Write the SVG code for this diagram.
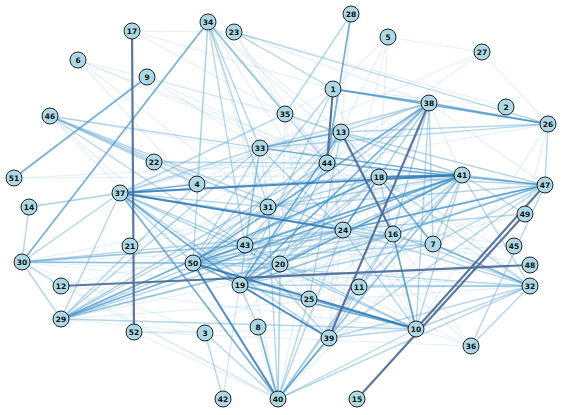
<svg xmlns="http://www.w3.org/2000/svg" width="564" height="415" viewBox="0 0 564 415">
<style>
.a{stroke:#9ecae1;stroke-opacity:0.28;stroke-width:1.2}
.b{stroke:#6baed6;stroke-opacity:0.5;stroke-width:1.4}
.c{stroke:#4292c6;stroke-opacity:0.72;stroke-width:1.7}
.d{stroke:#2f78b8;stroke-opacity:0.85;stroke-width:2}
.e{stroke:#4d6b98;stroke-opacity:0.92;stroke-width:2.2}
.n circle{fill:#add8e6;stroke:#222;stroke-width:1}
.n text{font-family:"DejaVu Sans",sans-serif;font-weight:bold;font-size:7.5px;fill:#111;text-anchor:middle;dominant-baseline:central}
</style>
<rect width="564" height="415" fill="#fff"/>
<g id="edges" fill="none">
<line class="a" x1="78" y1="60" x2="285" y2="114"/>
<line class="a" x1="78" y1="60" x2="327" y2="163"/>
<line class="a" x1="78" y1="60" x2="268" y2="207"/>
<line class="a" x1="78" y1="60" x2="379" y2="177"/>
<line class="a" x1="78" y1="60" x2="245" y2="245"/>
<line class="a" x1="147" y1="77" x2="260" y2="148"/>
<line class="a" x1="147" y1="77" x2="341" y2="132"/>
<line class="a" x1="147" y1="77" x2="327" y2="163"/>
<line class="a" x1="132" y1="31" x2="285" y2="114"/>
<line class="a" x1="132" y1="31" x2="333" y2="89"/>
<line class="a" x1="132" y1="31" x2="234" y2="32"/>
<line class="a" x1="154" y1="162" x2="462" y2="175"/>
<line class="a" x1="154" y1="162" x2="268" y2="207"/>
<line class="a" x1="29" y1="207" x2="327" y2="163"/>
<line class="a" x1="14" y1="178" x2="327" y2="163"/>
<line class="a" x1="14" y1="178" x2="462" y2="175"/>
<line class="a" x1="197" y1="184" x2="341" y2="132"/>
<line class="a" x1="197" y1="184" x2="433" y2="244"/>
<line class="a" x1="197" y1="184" x2="260" y2="148"/>
<line class="a" x1="130" y1="246" x2="341" y2="132"/>
<line class="a" x1="130" y1="246" x2="462" y2="175"/>
<line class="a" x1="61" y1="286" x2="245" y2="245"/>
<line class="a" x1="61" y1="286" x2="416" y2="329"/>
<line class="a" x1="61" y1="319" x2="205" y2="333"/>
<line class="a" x1="61" y1="319" x2="327" y2="163"/>
<line class="a" x1="61" y1="319" x2="530" y2="286"/>
<line class="a" x1="61" y1="319" x2="433" y2="244"/>
<line class="a" x1="134" y1="332" x2="278" y2="399"/>
<line class="a" x1="134" y1="332" x2="205" y2="333"/>
<line class="a" x1="134" y1="332" x2="416" y2="329"/>
<line class="a" x1="134" y1="332" x2="471" y2="346"/>
<line class="a" x1="205" y1="333" x2="22" y2="262"/>
<line class="a" x1="205" y1="333" x2="462" y2="175"/>
<line class="a" x1="223" y1="399" x2="245" y2="245"/>
<line class="a" x1="223" y1="399" x2="240" y2="285"/>
<line class="a" x1="471" y1="346" x2="245" y2="245"/>
<line class="a" x1="471" y1="346" x2="343" y2="230"/>
<line class="a" x1="471" y1="346" x2="393" y2="234"/>
<line class="a" x1="514" y1="246" x2="193" y2="263"/>
<line class="a" x1="514" y1="246" x2="268" y2="207"/>
<line class="a" x1="530" y1="265" x2="343" y2="230"/>
<line class="a" x1="530" y1="265" x2="240" y2="285"/>
<line class="a" x1="530" y1="265" x2="379" y2="177"/>
<line class="a" x1="525" y1="214" x2="240" y2="285"/>
<line class="a" x1="525" y1="214" x2="548" y2="124"/>
<line class="a" x1="388" y1="37" x2="343" y2="230"/>
<line class="a" x1="388" y1="37" x2="482" y2="52"/>
<line class="a" x1="388" y1="37" x2="379" y2="177"/>
<line class="a" x1="388" y1="37" x2="341" y2="132"/>
<line class="a" x1="482" y1="52" x2="327" y2="163"/>
<line class="a" x1="482" y1="52" x2="260" y2="148"/>
<line class="a" x1="482" y1="52" x2="548" y2="124"/>
<line class="a" x1="506" y1="107" x2="234" y2="32"/>
<line class="a" x1="506" y1="107" x2="333" y2="89"/>
<line class="a" x1="234" y1="32" x2="429" y2="103"/>
<line class="a" x1="234" y1="32" x2="327" y2="163"/>
<line class="a" x1="234" y1="32" x2="285" y2="114"/>
<line class="a" x1="351" y1="14" x2="341" y2="132"/>
<line class="a" x1="333" y1="89" x2="285" y2="114"/>
<line class="a" x1="333" y1="89" x2="416" y2="329"/>
<line class="a" x1="327" y1="163" x2="245" y2="245"/>
<line class="a" x1="327" y1="163" x2="343" y2="230"/>
<line class="a" x1="327" y1="163" x2="278" y2="399"/>
<line class="a" x1="208" y1="22" x2="379" y2="177"/>
<line class="a" x1="208" y1="22" x2="280" y2="264"/>
<line class="a" x1="208" y1="22" x2="341" y2="132"/>
<line class="a" x1="208" y1="22" x2="343" y2="230"/>
<line class="a" x1="208" y1="22" x2="197" y2="184"/>
<line class="a" x1="208" y1="22" x2="393" y2="234"/>
<line class="a" x1="50" y1="116" x2="327" y2="163"/>
<line class="a" x1="50" y1="116" x2="193" y2="263"/>
<line class="a" x1="50" y1="116" x2="240" y2="285"/>
<line class="a" x1="548" y1="124" x2="327" y2="163"/>
<line class="a" x1="548" y1="124" x2="416" y2="329"/>
<line class="a" x1="359" y1="287" x2="193" y2="263"/>
<line class="a" x1="359" y1="287" x2="327" y2="163"/>
<line class="a" x1="359" y1="287" x2="429" y2="103"/>
<line class="a" x1="309" y1="299" x2="462" y2="175"/>
<line class="a" x1="309" y1="299" x2="545" y2="185"/>
<line class="a" x1="309" y1="299" x2="343" y2="230"/>
<line class="a" x1="260" y1="148" x2="268" y2="207"/>
<line class="a" x1="260" y1="148" x2="280" y2="264"/>
<line class="a" x1="285" y1="114" x2="278" y2="399"/>
<line class="a" x1="285" y1="114" x2="309" y2="299"/>
<line class="a" x1="429" y1="103" x2="327" y2="163"/>
<line class="a" x1="429" y1="103" x2="462" y2="175"/>
<line class="a" x1="429" y1="103" x2="545" y2="185"/>
<line class="a" x1="429" y1="103" x2="120" y2="193"/>
<line class="a" x1="429" y1="103" x2="343" y2="230"/>
<line class="a" x1="429" y1="103" x2="393" y2="234"/>
<line class="a" x1="22" y1="262" x2="462" y2="175"/>
<line class="a" x1="22" y1="262" x2="530" y2="286"/>
<line class="a" x1="22" y1="262" x2="240" y2="285"/>
<line class="a" x1="22" y1="262" x2="433" y2="244"/>
<line class="a" x1="278" y1="399" x2="433" y2="244"/>
<line class="a" x1="278" y1="399" x2="22" y2="262"/>
<line class="a" x1="278" y1="399" x2="240" y2="285"/>
<line class="a" x1="278" y1="399" x2="245" y2="245"/>
<line class="a" x1="329" y1="338" x2="343" y2="230"/>
<line class="a" x1="329" y1="338" x2="379" y2="177"/>
<line class="a" x1="329" y1="338" x2="260" y2="148"/>
<line class="a" x1="329" y1="338" x2="341" y2="132"/>
<line class="a" x1="329" y1="338" x2="280" y2="264"/>
<line class="a" x1="416" y1="329" x2="327" y2="163"/>
<line class="a" x1="416" y1="329" x2="471" y2="346"/>
<line class="a" x1="530" y1="286" x2="341" y2="132"/>
<line class="a" x1="530" y1="286" x2="327" y2="163"/>
<line class="a" x1="280" y1="264" x2="327" y2="163"/>
<line class="a" x1="280" y1="264" x2="545" y2="185"/>
<line class="a" x1="245" y1="245" x2="545" y2="185"/>
<line class="a" x1="240" y1="285" x2="268" y2="207"/>
<line class="a" x1="61" y1="286" x2="278" y2="399"/>
<line class="a" x1="341" y1="132" x2="462" y2="175"/>
<line class="a" x1="341" y1="132" x2="61" y2="319"/>
<line class="a" x1="341" y1="132" x2="120" y2="193"/>
<line class="a" x1="333" y1="89" x2="388" y2="37"/>
<line class="b" x1="208" y1="22" x2="260" y2="148"/>
<line class="b" x1="208" y1="22" x2="245" y2="245"/>
<line class="b" x1="208" y1="22" x2="268" y2="207"/>
<line class="b" x1="208" y1="22" x2="285" y2="114"/>
<line class="b" x1="208" y1="22" x2="327" y2="163"/>
<line class="b" x1="208" y1="22" x2="193" y2="263"/>
<line class="b" x1="234" y1="32" x2="548" y2="124"/>
<line class="b" x1="234" y1="32" x2="333" y2="89"/>
<line class="b" x1="50" y1="116" x2="154" y2="162"/>
<line class="b" x1="50" y1="116" x2="197" y2="184"/>
<line class="b" x1="50" y1="116" x2="260" y2="148"/>
<line class="b" x1="50" y1="116" x2="245" y2="245"/>
<line class="b" x1="50" y1="116" x2="343" y2="230"/>
<line class="b" x1="50" y1="116" x2="268" y2="207"/>
<line class="b" x1="120" y1="193" x2="260" y2="148"/>
<line class="b" x1="120" y1="193" x2="379" y2="177"/>
<line class="b" x1="120" y1="193" x2="268" y2="207"/>
<line class="b" x1="120" y1="193" x2="245" y2="245"/>
<line class="b" x1="120" y1="193" x2="193" y2="263"/>
<line class="b" x1="120" y1="193" x2="329" y2="338"/>
<line class="b" x1="120" y1="193" x2="416" y2="329"/>
<line class="b" x1="120" y1="193" x2="393" y2="234"/>
<line class="b" x1="120" y1="193" x2="433" y2="244"/>
<line class="b" x1="120" y1="193" x2="61" y2="319"/>
<line class="b" x1="120" y1="193" x2="22" y2="262"/>
<line class="b" x1="120" y1="193" x2="29" y2="207"/>
<line class="b" x1="22" y1="262" x2="193" y2="263"/>
<line class="b" x1="22" y1="262" x2="280" y2="264"/>
<line class="b" x1="22" y1="262" x2="245" y2="245"/>
<line class="b" x1="22" y1="262" x2="343" y2="230"/>
<line class="b" x1="22" y1="262" x2="393" y2="234"/>
<line class="b" x1="22" y1="262" x2="61" y2="319"/>
<line class="b" x1="61" y1="319" x2="197" y2="184"/>
<line class="b" x1="61" y1="319" x2="260" y2="148"/>
<line class="b" x1="61" y1="319" x2="245" y2="245"/>
<line class="b" x1="61" y1="319" x2="268" y2="207"/>
<line class="b" x1="61" y1="319" x2="343" y2="230"/>
<line class="b" x1="61" y1="319" x2="393" y2="234"/>
<line class="b" x1="61" y1="319" x2="280" y2="264"/>
<line class="b" x1="61" y1="319" x2="416" y2="329"/>
<line class="b" x1="278" y1="399" x2="280" y2="264"/>
<line class="b" x1="278" y1="399" x2="309" y2="299"/>
<line class="b" x1="278" y1="399" x2="359" y2="287"/>
<line class="b" x1="278" y1="399" x2="343" y2="230"/>
<line class="b" x1="278" y1="399" x2="393" y2="234"/>
<line class="b" x1="278" y1="399" x2="416" y2="329"/>
<line class="b" x1="278" y1="399" x2="530" y2="286"/>
<line class="b" x1="278" y1="399" x2="462" y2="175"/>
<line class="b" x1="278" y1="399" x2="268" y2="207"/>
<line class="b" x1="278" y1="399" x2="205" y2="333"/>
<line class="b" x1="329" y1="338" x2="416" y2="329"/>
<line class="b" x1="329" y1="338" x2="462" y2="175"/>
<line class="b" x1="329" y1="338" x2="545" y2="185"/>
<line class="b" x1="329" y1="338" x2="393" y2="234"/>
<line class="b" x1="329" y1="338" x2="245" y2="245"/>
<line class="b" x1="329" y1="338" x2="530" y2="286"/>
<line class="b" x1="309" y1="299" x2="193" y2="263"/>
<line class="b" x1="309" y1="299" x2="240" y2="285"/>
<line class="b" x1="309" y1="299" x2="341" y2="132"/>
<line class="b" x1="416" y1="329" x2="343" y2="230"/>
<line class="b" x1="416" y1="329" x2="379" y2="177"/>
<line class="b" x1="416" y1="329" x2="462" y2="175"/>
<line class="b" x1="416" y1="329" x2="429" y2="103"/>
<line class="b" x1="416" y1="329" x2="530" y2="286"/>
<line class="b" x1="416" y1="329" x2="245" y2="245"/>
<line class="b" x1="530" y1="286" x2="393" y2="234"/>
<line class="b" x1="530" y1="286" x2="343" y2="230"/>
<line class="b" x1="530" y1="286" x2="379" y2="177"/>
<line class="b" x1="530" y1="286" x2="193" y2="263"/>
<line class="b" x1="530" y1="286" x2="240" y2="285"/>
<line class="b" x1="530" y1="286" x2="471" y2="346"/>
<line class="b" x1="530" y1="286" x2="462" y2="175"/>
<line class="b" x1="471" y1="346" x2="545" y2="185"/>
<line class="b" x1="525" y1="214" x2="462" y2="175"/>
<line class="b" x1="525" y1="214" x2="343" y2="230"/>
<line class="b" x1="433" y1="244" x2="193" y2="263"/>
<line class="b" x1="433" y1="244" x2="240" y2="285"/>
<line class="b" x1="433" y1="244" x2="429" y2="103"/>
<line class="b" x1="433" y1="244" x2="462" y2="175"/>
<line class="b" x1="433" y1="244" x2="545" y2="185"/>
<line class="b" x1="393" y1="234" x2="193" y2="263"/>
<line class="b" x1="393" y1="234" x2="240" y2="285"/>
<line class="b" x1="393" y1="234" x2="462" y2="175"/>
<line class="b" x1="393" y1="234" x2="429" y2="103"/>
<line class="b" x1="393" y1="234" x2="545" y2="185"/>
<line class="b" x1="343" y1="230" x2="193" y2="263"/>
<line class="b" x1="343" y1="230" x2="240" y2="285"/>
<line class="b" x1="343" y1="230" x2="245" y2="245"/>
<line class="b" x1="343" y1="230" x2="260" y2="148"/>
<line class="b" x1="343" y1="230" x2="462" y2="175"/>
<line class="b" x1="343" y1="230" x2="429" y2="103"/>
<line class="b" x1="379" y1="177" x2="193" y2="263"/>
<line class="b" x1="379" y1="177" x2="240" y2="285"/>
<line class="b" x1="379" y1="177" x2="280" y2="264"/>
<line class="b" x1="379" y1="177" x2="268" y2="207"/>
<line class="b" x1="379" y1="177" x2="545" y2="185"/>
<line class="b" x1="379" y1="177" x2="341" y2="132"/>
<line class="b" x1="280" y1="264" x2="193" y2="263"/>
<line class="b" x1="280" y1="264" x2="462" y2="175"/>
<line class="b" x1="280" y1="264" x2="429" y2="103"/>
<line class="b" x1="280" y1="264" x2="341" y2="132"/>
<line class="b" x1="245" y1="245" x2="193" y2="263"/>
<line class="b" x1="245" y1="245" x2="462" y2="175"/>
<line class="b" x1="245" y1="245" x2="429" y2="103"/>
<line class="b" x1="245" y1="245" x2="341" y2="132"/>
<line class="b" x1="268" y1="207" x2="545" y2="185"/>
<line class="b" x1="268" y1="207" x2="462" y2="175"/>
<line class="b" x1="260" y1="148" x2="429" y2="103"/>
<line class="b" x1="260" y1="148" x2="193" y2="263"/>
<line class="b" x1="260" y1="148" x2="240" y2="285"/>
<line class="b" x1="260" y1="148" x2="548" y2="124"/>
<line class="b" x1="260" y1="148" x2="245" y2="245"/>
<line class="b" x1="285" y1="114" x2="351" y2="14"/>
<line class="b" x1="285" y1="114" x2="120" y2="193"/>
<line class="b" x1="285" y1="114" x2="462" y2="175"/>
<line class="b" x1="327" y1="163" x2="193" y2="263"/>
<line class="b" x1="327" y1="163" x2="240" y2="285"/>
<line class="b" x1="327" y1="163" x2="61" y2="319"/>
<line class="b" x1="341" y1="132" x2="193" y2="263"/>
<line class="b" x1="341" y1="132" x2="548" y2="124"/>
<line class="b" x1="341" y1="132" x2="429" y2="103"/>
<line class="b" x1="341" y1="132" x2="545" y2="185"/>
<line class="b" x1="333" y1="89" x2="240" y2="285"/>
<line class="b" x1="333" y1="89" x2="193" y2="263"/>
<line class="b" x1="545" y1="185" x2="462" y2="175"/>
<line class="b" x1="545" y1="185" x2="193" y2="263"/>
<line class="b" x1="545" y1="185" x2="240" y2="285"/>
<line class="b" x1="545" y1="185" x2="393" y2="234"/>
<line class="b" x1="545" y1="185" x2="548" y2="124"/>
<line class="b" x1="205" y1="333" x2="223" y2="399"/>
<line class="b" x1="258" y1="327" x2="240" y2="285"/>
<line class="b" x1="61" y1="286" x2="22" y2="262"/>
<line class="b" x1="29" y1="207" x2="22" y2="262"/>
<line class="b" x1="359" y1="287" x2="462" y2="175"/>
<line class="b" x1="359" y1="287" x2="530" y2="286"/>
<line class="b" x1="154" y1="162" x2="327" y2="163"/>
<line class="c" x1="22" y1="262" x2="208" y2="22"/>
<line class="c" x1="14" y1="178" x2="147" y2="77"/>
<line class="c" x1="351" y1="14" x2="327" y2="163"/>
<line class="c" x1="333" y1="89" x2="548" y2="124"/>
<line class="c" x1="429" y1="103" x2="548" y2="124"/>
<line class="c" x1="333" y1="89" x2="429" y2="103"/>
<line class="c" x1="379" y1="177" x2="433" y2="244"/>
<line class="c" x1="240" y1="285" x2="416" y2="329"/>
<line class="c" x1="61" y1="319" x2="462" y2="175"/>
<line class="c" x1="61" y1="319" x2="379" y2="177"/>
<line class="c" x1="193" y1="263" x2="462" y2="175"/>
<line class="c" x1="240" y1="285" x2="462" y2="175"/>
<line class="c" x1="260" y1="148" x2="462" y2="175"/>
<line class="c" x1="429" y1="103" x2="193" y2="263"/>
<line class="c" x1="429" y1="103" x2="240" y2="285"/>
<line class="c" x1="120" y1="193" x2="240" y2="285"/>
<line class="c" x1="120" y1="193" x2="278" y2="399"/>
<line class="c" x1="545" y1="185" x2="343" y2="230"/>
<line class="c" x1="393" y1="234" x2="416" y2="329"/>
<line class="c" x1="278" y1="399" x2="258" y2="327"/>
<line class="c" x1="416" y1="329" x2="309" y2="299"/>
<line class="c" x1="343" y1="230" x2="379" y2="177"/>
<line class="c" x1="193" y1="263" x2="240" y2="285"/>
<line class="c" x1="240" y1="285" x2="341" y2="132"/>
<line class="c" x1="260" y1="148" x2="341" y2="132"/>
<line class="c" x1="120" y1="193" x2="197" y2="184"/>
<line class="c" x1="327" y1="163" x2="545" y2="185"/>
<line class="c" x1="278" y1="399" x2="329" y2="338"/>
<line class="c" x1="530" y1="286" x2="433" y2="244"/>
<line class="d" x1="120" y1="193" x2="462" y2="175"/>
<line class="d" x1="379" y1="177" x2="462" y2="175"/>
<line class="d" x1="193" y1="263" x2="278" y2="399"/>
<line class="d" x1="240" y1="285" x2="329" y2="338"/>
<line class="d" x1="120" y1="193" x2="343" y2="230"/>
<line class="d" x1="193" y1="263" x2="416" y2="329"/>
<line class="e" x1="132" y1="31" x2="134" y2="332"/>
<line class="e" x1="61" y1="286" x2="530" y2="265"/>
<line class="e" x1="333" y1="89" x2="327" y2="163"/>
<line class="e" x1="357" y1="399" x2="525" y2="214"/>
<line class="e" x1="416" y1="329" x2="545" y2="185"/>
<line class="e" x1="429" y1="103" x2="329" y2="338"/>
<line class="e" x1="341" y1="132" x2="393" y2="234"/>
</g>
<g id="n1" class="n"><circle cx="333" cy="89" r="8"/><text x="333" y="89">1</text></g>
<g id="n2" class="n"><circle cx="506" cy="107" r="8"/><text x="506" y="107">2</text></g>
<g id="n3" class="n"><circle cx="205" cy="333" r="8"/><text x="205" y="333">3</text></g>
<g id="n4" class="n"><circle cx="197" cy="184" r="8"/><text x="197" y="184">4</text></g>
<g id="n5" class="n"><circle cx="388" cy="37" r="8"/><text x="388" y="37">5</text></g>
<g id="n6" class="n"><circle cx="78" cy="60" r="8"/><text x="78" y="60">6</text></g>
<g id="n7" class="n"><circle cx="433" cy="244" r="8"/><text x="433" y="244">7</text></g>
<g id="n8" class="n"><circle cx="258" cy="327" r="8"/><text x="258" y="327">8</text></g>
<g id="n9" class="n"><circle cx="147" cy="77" r="8"/><text x="147" y="77">9</text></g>
<g id="n10" class="n"><circle cx="416" cy="329" r="8"/><text x="416" y="329">10</text></g>
<g id="n11" class="n"><circle cx="359" cy="287" r="8"/><text x="359" y="287">11</text></g>
<g id="n12" class="n"><circle cx="61" cy="286" r="8"/><text x="61" y="286">12</text></g>
<g id="n13" class="n"><circle cx="341" cy="132" r="8"/><text x="341" y="132">13</text></g>
<g id="n14" class="n"><circle cx="29" cy="207" r="8"/><text x="29" y="207">14</text></g>
<g id="n15" class="n"><circle cx="357" cy="399" r="8"/><text x="357" y="399">15</text></g>
<g id="n16" class="n"><circle cx="393" cy="234" r="8"/><text x="393" y="234">16</text></g>
<g id="n17" class="n"><circle cx="132" cy="31" r="8"/><text x="132" y="31">17</text></g>
<g id="n18" class="n"><circle cx="379" cy="177" r="8"/><text x="379" y="177">18</text></g>
<g id="n19" class="n"><circle cx="240" cy="285" r="8"/><text x="240" y="285">19</text></g>
<g id="n20" class="n"><circle cx="280" cy="264" r="8"/><text x="280" y="264">20</text></g>
<g id="n21" class="n"><circle cx="130" cy="246" r="8"/><text x="130" y="246">21</text></g>
<g id="n22" class="n"><circle cx="154" cy="162" r="8"/><text x="154" y="162">22</text></g>
<g id="n23" class="n"><circle cx="234" cy="32" r="8"/><text x="234" y="32">23</text></g>
<g id="n24" class="n"><circle cx="343" cy="230" r="8"/><text x="343" y="230">24</text></g>
<g id="n25" class="n"><circle cx="309" cy="299" r="8"/><text x="309" y="299">25</text></g>
<g id="n26" class="n"><circle cx="548" cy="124" r="8"/><text x="548" y="124">26</text></g>
<g id="n27" class="n"><circle cx="482" cy="52" r="8"/><text x="482" y="52">27</text></g>
<g id="n28" class="n"><circle cx="351" cy="14" r="8"/><text x="351" y="14">28</text></g>
<g id="n29" class="n"><circle cx="61" cy="319" r="8"/><text x="61" y="319">29</text></g>
<g id="n30" class="n"><circle cx="22" cy="262" r="8"/><text x="22" y="262">30</text></g>
<g id="n31" class="n"><circle cx="268" cy="207" r="8"/><text x="268" y="207">31</text></g>
<g id="n32" class="n"><circle cx="530" cy="286" r="8"/><text x="530" y="286">32</text></g>
<g id="n33" class="n"><circle cx="260" cy="148" r="8"/><text x="260" y="148">33</text></g>
<g id="n34" class="n"><circle cx="208" cy="22" r="8"/><text x="208" y="22">34</text></g>
<g id="n35" class="n"><circle cx="285" cy="114" r="8"/><text x="285" y="114">35</text></g>
<g id="n36" class="n"><circle cx="471" cy="346" r="8"/><text x="471" y="346">36</text></g>
<g id="n37" class="n"><circle cx="120" cy="193" r="8"/><text x="120" y="193">37</text></g>
<g id="n38" class="n"><circle cx="429" cy="103" r="8"/><text x="429" y="103">38</text></g>
<g id="n39" class="n"><circle cx="329" cy="338" r="8"/><text x="329" y="338">39</text></g>
<g id="n40" class="n"><circle cx="278" cy="399" r="8"/><text x="278" y="399">40</text></g>
<g id="n41" class="n"><circle cx="462" cy="175" r="8"/><text x="462" y="175">41</text></g>
<g id="n42" class="n"><circle cx="223" cy="399" r="8"/><text x="223" y="399">42</text></g>
<g id="n43" class="n"><circle cx="245" cy="245" r="8"/><text x="245" y="245">43</text></g>
<g id="n44" class="n"><circle cx="327" cy="163" r="8"/><text x="327" y="163">44</text></g>
<g id="n45" class="n"><circle cx="514" cy="246" r="8"/><text x="514" y="246">45</text></g>
<g id="n46" class="n"><circle cx="50" cy="116" r="8"/><text x="50" y="116">46</text></g>
<g id="n47" class="n"><circle cx="545" cy="185" r="8"/><text x="545" y="185">47</text></g>
<g id="n48" class="n"><circle cx="530" cy="265" r="8"/><text x="530" y="265">48</text></g>
<g id="n49" class="n"><circle cx="525" cy="214" r="8"/><text x="525" y="214">49</text></g>
<g id="n50" class="n"><circle cx="193" cy="263" r="8"/><text x="193" y="263">50</text></g>
<g id="n51" class="n"><circle cx="14" cy="178" r="8"/><text x="14" y="178">51</text></g>
<g id="n52" class="n"><circle cx="134" cy="332" r="8"/><text x="134" y="332">52</text></g>
</svg>
